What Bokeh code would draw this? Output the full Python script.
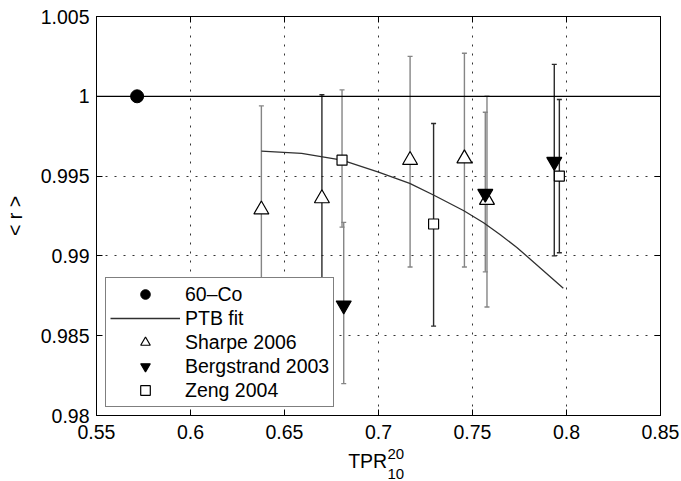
from bokeh.plotting import figure
from bokeh.models import (Range1d, FixedTicker, LinearAxis, CustomJSTickFormatter, Whisker,
                          ColumnDataSource, TeeHead, Span, Label, Legend, LegendItem)
from bokeh.embed import file_html
from bokeh.resources import INLINE

# ---------------- data ----------------
x_ticks = [0.55, 0.6, 0.65, 0.7, 0.75, 0.8, 0.85]
y_ticks = [0.98, 0.985, 0.99, 0.995, 1.0, 1.005]

reference_r = 1.0

co60_x = [0.5716]
co60_y = [1.0]

ptb_x = [0.6377, 0.6591, 0.6806, 0.7000, 0.7166, 0.7295, 0.7454, 0.7559, 0.7648, 0.7736, 0.7983]
ptb_y = [0.99656, 0.99642, 0.99600, 0.99525, 0.99454, 0.99380, 0.99283, 0.99208, 0.99132, 0.99053, 0.98798]

sharpe_x = [0.6377, 0.6699, 0.7168, 0.7457, 0.7577]
sharpe_y = [0.9929, 0.9936, 0.9960, 0.9961, 0.9935]
sharpe_upper = [0.9994, 1.0001, 1.0025, 1.0027, 1.0000]
sharpe_lower = [0.9864, 0.9871, 0.9893, 0.9893, 0.9868]

berg_x = [0.6815, 0.7568, 0.7935]
berg_y = [0.9869, 0.9939, 0.9959]
berg_upper = [0.9921, 0.9990, 1.0020]
berg_lower = [0.9820, 0.9890, 0.9900]

zeng_x = [0.6806, 0.7293, 0.7962]
zeng_y = [0.9960, 0.9920, 0.9950]
zeng_upper = [1.0004, 0.9983, 0.9998]
zeng_lower = [0.9918, 0.9856, 0.9902]

# ---------------- styles ----------------
GRAY = "#858585"
DARK = "#2a2a2a"
sharpe_bar_colors = [GRAY, DARK, GRAY, GRAY, GRAY]
berg_bar_colors = [GRAY, GRAY, DARK]
zeng_bar_colors = [GRAY, DARK, DARK]

FONT = "Liberation Sans"
FS = "19.5px"

X0, X1 = x_ticks[0], x_ticks[-1]
Y0, Y1 = y_ticks[0], y_ticks[-1]

p = figure(width=681, height=481, output_backend="svg", toolbar_location=None,
           x_range=Range1d(X0, X1), y_range=Range1d(Y0, Y1),
           min_border_left=94, min_border_right=21, min_border_top=16, min_border_bottom=66)
p.background_fill_color = "white"
p.border_fill_color = "white"
p.outline_line_color = "black"
p.outline_line_width = 1

fmt = CustomJSTickFormatter(code="return String(+tick.toFixed(4));")
blank = CustomJSTickFormatter(code="return '';")

for ax in (p.xaxis[0], p.yaxis[0]):
    ax.major_tick_in = 6
    ax.major_tick_out = 0
    ax.minor_tick_line_color = None
    ax.axis_line_color = "black"
    ax.major_tick_line_color = "black"
    ax.major_label_text_font = FONT
    ax.major_label_text_font_size = FS
    ax.major_label_text_color = "black"
    ax.axis_label_text_font = FONT
    ax.axis_label_text_font_size = FS
    ax.axis_label_text_font_style = "normal"
    ax.axis_label_text_color = "black"
    ax.formatter = fmt
p.xaxis[0].ticker = FixedTicker(ticks=x_ticks)
p.yaxis[0].ticker = FixedTicker(ticks=y_ticks)
p.xaxis[0].major_label_standoff = 9
p.yaxis[0].major_label_standoff = 7
p.yaxis[0].axis_label = "< r >"
p.yaxis[0].axis_label_standoff = 12
# x title "TPR" (padded with no-break spaces so that TPR + scripts is centred)
p.xaxis[0].axis_label = "TPR\u00a0\u00a0\u00a0\u00a0"
p.xaxis[0].axis_label_standoff = 8

top_ax = LinearAxis(ticker=FixedTicker(ticks=x_ticks), formatter=blank)
right_ax = LinearAxis(ticker=FixedTicker(ticks=y_ticks), formatter=blank)
for ax in (top_ax, right_ax):
    ax.major_tick_in = 6
    ax.major_tick_out = 0
    ax.minor_tick_line_color = None
    ax.major_label_text_font_size = "1px"
    ax.major_label_standoff = 0
p.add_layout(top_ax, "above")
p.add_layout(right_ax, "right")

for g in (p.xgrid[0], p.ygrid[0]):
    g.grid_line_color = "#333333"
    g.grid_line_dash = "2 7"
    g.grid_line_width = 1
p.xgrid[0].ticker = FixedTicker(ticks=x_ticks)
p.ygrid[0].ticker = FixedTicker(ticks=y_ticks)

# reference line at r = 1
p.add_layout(Span(location=reference_r, dimension="width", line_color="black", line_width=1.3))

# error bars
def add_bars(xs, lo, hi, colors):
    for i in range(len(xs)):
        src = ColumnDataSource(dict(x=[xs[i]], lower=[lo[i]], upper=[hi[i]]))
        w = Whisker(source=src, base="x", lower="lower", upper="upper",
                    line_color=colors[i], line_width=1.4, level="underlay",
                    upper_head=TeeHead(size=5, line_color=colors[i], line_width=1.4),
                    lower_head=TeeHead(size=5, line_color=colors[i], line_width=1.4))
        p.add_layout(w)

add_bars(sharpe_x, sharpe_lower, sharpe_upper, sharpe_bar_colors)
add_bars(berg_x, berg_lower, berg_upper, berg_bar_colors)
add_bars(zeng_x, zeng_lower, zeng_upper, zeng_bar_colors)

r_fit = p.line(ptb_x, ptb_y, line_color="#303030", line_width=1.3)
r_co = p.scatter(co60_x, co60_y, marker="circle", size=13, fill_color="black", line_color="black")
r_sh = p.scatter(sharpe_x, sharpe_y, marker="triangle", size=15, fill_color="white",
                 line_color="black", line_width=1.2)
r_bg = p.scatter(berg_x, berg_y, marker="inverted_triangle", size=15, fill_color="black",
                 line_color="black", line_width=1.2)
r_zg = p.scatter(zeng_x, zeng_y, marker="square", size=10, fill_color="white",
                 line_color="black", line_width=1.2)

legend = Legend(items=[
    LegendItem(label="60\u2013Co", renderers=[r_co]),
    LegendItem(label="PTB fit", renderers=[r_fit]),
    LegendItem(label="Sharpe 2006", renderers=[r_sh]),
    LegendItem(label="Bergstrand 2003", renderers=[r_bg]),
    LegendItem(label="Zeng 2004", renderers=[r_zg]),
], location=(9, 8))
legend.label_text_font = FONT
legend.label_text_font_size = FS
legend.label_text_color = "black"
legend.glyph_width = 70
legend.glyph_height = 24
legend.label_height = 24
legend.label_standoff = 5
legend.spacing = 0
legend.padding = 4
legend.margin = 0
legend.border_line_color = "black"
legend.border_line_width = 1.5
legend.background_fill_color = "white"
legend.background_fill_alpha = 1
p.add_layout(legend)

# super/subscript of the x title: a two-line label kept in a side panel (so it is not
# clipped by the frame), positioned through the plot's own scales just right of "TPR"
frame_w, frame_h = 566.0, 399.0
script_x = X0 + (X1 - X0) * (292.0 / frame_w)
script_y = Y0 - (Y1 - Y0) * (29.5 / frame_h)
p.add_layout(Label(x=script_x, y=script_y, text="20\n10",
                   text_align="left", text_baseline="top", text_line_height=1.2,
                   text_font=FONT, text_font_size="15px", text_color="black"), "right")

open("out.html", "w").write(file_html(p, INLINE))
